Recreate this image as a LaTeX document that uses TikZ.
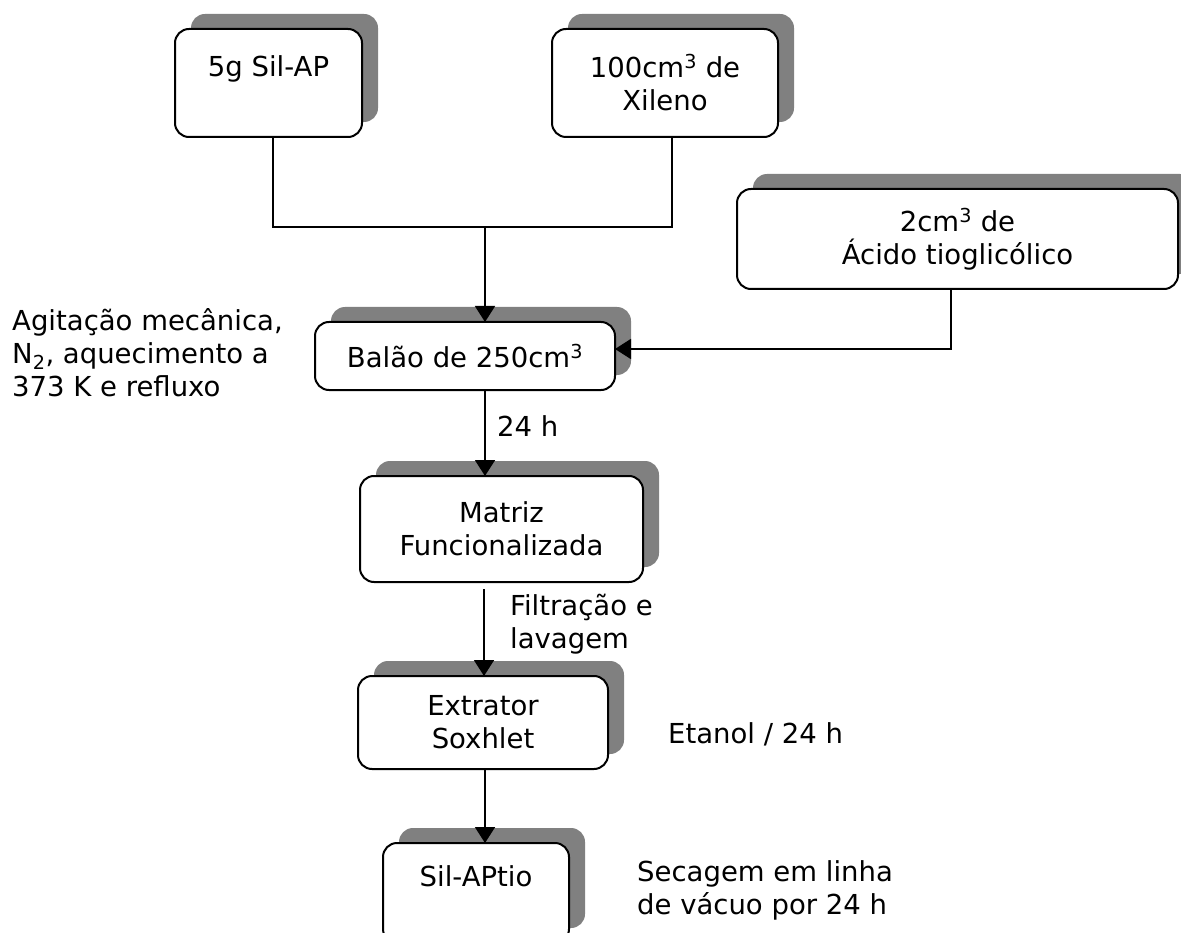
\documentclass[tikz,border=0pt]{standalone}
\usepackage{fontspec}
\setmainfont{DejaVu Sans}
\usetikzlibrary{arrows.meta,shadows}
\definecolor{shadowgray}{HTML}{808080}
\tikzset{
  txt/.style={font={\fontsize{27.5}{33}\selectfont}},
  box/.style={txt, draw=black, line width=2pt, fill=white, rounded corners=14pt,
    inner sep=0pt, outer sep=0pt, align=center,
    drop shadow={shadow xshift=16pt, shadow yshift=15pt, fill=shadowgray, opacity=1}},
  lbl/.style={txt, inner sep=0pt, align=left, anchor=west},
  link/.style={line width=1.8pt},
  arr/.style={line width=1.8pt, -{Triangle[length=16pt,width=20pt]}}
}
\begin{document}
\begin{tikzpicture}[x=1pt,y=-1pt]
\useasboundingbox (0,0) rectangle (1181,933);
\clip (0,0) rectangle (1181,933);

% reagents
\node[box, minimum width=187pt, minimum height=108pt] (b1) at (268.5,83) {5g Sil-AP\\\mbox{}};
\node[box, minimum width=226pt, minimum height=108pt] (b2) at (665,83) {100cm\textsuperscript{3} de\\Xileno};
\node[box, minimum width=441pt, minimum height=100pt] (b3) at (957.5,239) {2cm\textsuperscript{3} de\\Ácido tioglicólico};

% process steps
\node[box, minimum width=300pt, minimum height=68pt] (balao) at (465,356) {Balão de 250cm\textsuperscript{3}};
\node[box, minimum width=283pt, minimum height=106pt] (matriz) at (501.5,529) {Matriz\\Funcionalizada};
\node[box, minimum width=250pt, minimum height=93pt] (extr) at (483,722.5) {Extrator\\Soxhlet};
\node[box, minimum width=186pt, minimum height=100pt] (sil) at (476,893) {Sil-APtio\\\mbox{}};

% conditions
\node[lbl] (agit) at (12,353) {Agitação mecânica,\\N\textsubscript{2}, aquecimento a\\373 K e refluxo};
\node[lbl] (t24) at (497,426) {24 h};
\node[lbl] (filt) at (510,624) {Filtração e\\lavagem};
\node[lbl] (etanol) at (668,734) {Etanol / 24 h};
\node[lbl] (sec) at (637,890) {Secagem em linha\\de vácuo por 24 h};

% connectors
\coordinate (j1) at (273,227);
\coordinate (j2) at (672,227);
\coordinate (jm) at (485,227);
\coordinate (c3) at (951,349);
\coordinate (axis) at (485,0);
\coordinate (m1) at (484,589);

\draw[link] (b1.south -| j1) -- (j1) -- (j2) -- (b2.south -| j2);
\draw[arr] (jm) -- (balao.north -| jm);
\draw[arr] (b3.south -| c3) -- (c3) -- (balao.east |- c3);
\draw[arr] (balao.south -| axis) -- (matriz.north -| axis);
\draw[arr] (m1) -- (extr.north -| m1);
\draw[arr] (extr.south -| axis) -- (sil.north -| axis);
\end{tikzpicture}
\end{document}
